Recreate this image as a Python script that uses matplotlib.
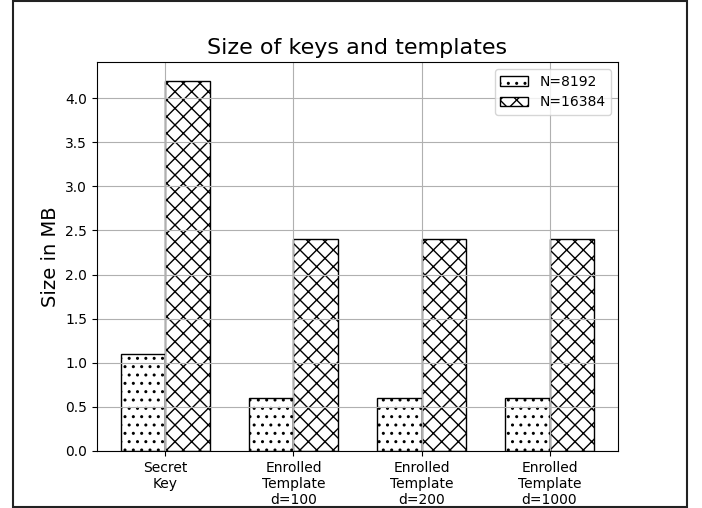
import numpy as np
import matplotlib
matplotlib.use('Agg')
import matplotlib.pyplot as plt
from matplotlib.patches import Rectangle

# sizes in MB for each stored object
labels = ['Secret\nKey', 'Enrolled\nTemplate\nd=100', 'Enrolled\nTemplate\nd=200', 'Enrolled\nTemplate\nd=1000']
size_8192 = [1.1, 0.6, 0.6, 0.6]
size_16384 = [4.2, 2.4, 2.4, 2.4]

fig = plt.figure(figsize=(7.02, 5.08), dpi=100)
ax = fig.add_axes([97 / 702, 1 - 451 / 508, 521 / 702, 389 / 508])

x = np.arange(len(labels))
width = 0.35

ax.bar(x - width / 2, size_8192, width, color='white', edgecolor='black', hatch='..', label='N=8192')
ax.bar(x + width / 2, size_16384, width, color='white', edgecolor='black', hatch='xx', label='N=16384')

ax.set_xticks(x)
ax.set_xticklabels(labels)
ax.set_ylabel('Size in MB', fontsize=14)
ax.set_title('Size of keys and templates', fontsize=16)
ax.legend(loc='upper right')
ax.grid(True)

# outer frame around the figure
fig.patches.append(Rectangle((12.5 / 702, 1.5 / 508), 674 / 702, 506 / 508,
                             transform=fig.transFigure, fill=False,
                             edgecolor='#222222', linewidth=1.5, zorder=10))

fig.savefig('out.png', dpi=100)
